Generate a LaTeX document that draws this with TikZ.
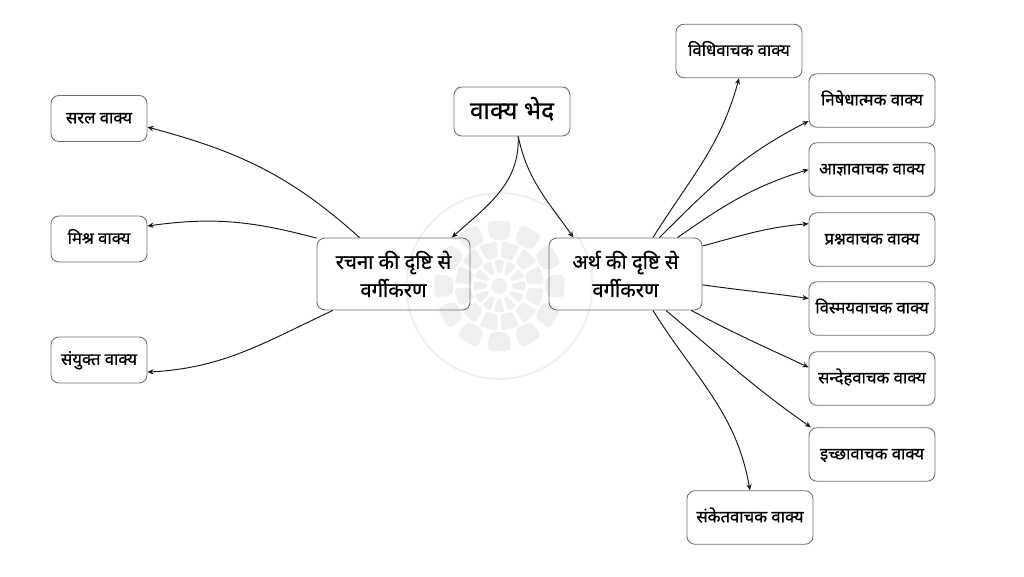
\documentclass[tikz,border=0pt]{standalone}
\usepackage{fontspec}
\setmainfont[Script=Devanagari,FakeBold=0.7]{Noto Sans}
\usetikzlibrary{arrows.meta}
\definecolor{boxline}{HTML}{6E6E6E}
\definecolor{lotus}{HTML}{EFEFEF}
\tikzset{
  card/.style={draw=boxline,line width=0.5pt,rounded corners=4.5pt,inner sep=0pt,align=center},
  leaf/.style={card,text height=8pt,text depth=2.4pt,font=\fontsize{9.5}{11}\selectfont},
  branch/.style={card,minimum width=153*0.2mm,minimum height=72*0.2mm,font=\fontsize{11.5}{16}\selectfont},
  link/.style={draw=black!90,line width=0.55pt,-{Stealth[length=3.5pt,width=3pt]}},
}
\begin{document}
\begin{tikzpicture}[x=0.2mm,y=-0.2mm]
    \useasboundingbox (0,0) rectangle (1024,576);
    % watermark
    \draw[lotus,line width=1.1pt] (499.3,286) circle (93);
    \fill[lotus] (499.3,286) circle (8);
    \foreach \a in {0,30,...,330}{
      \fill[lotus,rotate around={\a:(499.3,286)},rounded corners=1pt] (498,274) -- (501,274) -- (504.5,260) -- (494,260) -- cycle;
      \fill[lotus,rotate around={\a+15:(499.3,286)},rounded corners=1.5pt] (494,258) -- (505,258) -- (508.5,242) -- (490,242) -- cycle;
      \fill[lotus,rotate around={\a:(499.3,286)},rounded corners=3pt] (490,240) -- (509,240) -- (511.5,221) -- (487,221) -- cycle;
    }
    % boxes
    \node[leaf,text height=11pt,text depth=2.5pt,font=\fontsize{14}{16}\selectfont,minimum width=116*0.2mm,minimum height=49*0.2mm] (vakya) at (512,111.5) {वाक्य भेद};
    \node[branch] (rachna) at (393.5,274) {रचना की दृष्टि से\\वर्गीकरण};
    \node[branch] (arth) at (625.5,274) {अर्थ की दृष्टि से\\वर्गीकरण};
    \foreach \nm/\y/\txt in {sarala/118.5/सरल वाक्य,mishra/239/मिश्र वाक्य,sanyukt/360/संयुक्त वाक्य}
      \node[leaf,minimum width=96*0.2mm,minimum height=46*0.2mm] (\nm) at (99,\y) {\txt};
    \foreach \nm/\x/\y/\txt in {vidhi/739/51/विधिवाचक वाक्य,nishedh/872/100.5/निषेधात्मक वाक्य,agya/872/169.5/आज्ञावाचक वाक्य,prashn/872/239.5/प्रश्नवाचक वाक्य,vismay/872/308.5/विस्मयवाचक वाक्य,sandeh/872/378.5/सन्देहवाचक वाक्य,ichha/872/454.5/इच्छावाचक वाक्य,sanket/750/517.5/संकेतवाचक वाक्य}
      \node[leaf,minimum width=126*0.2mm,minimum height=53.5*0.2mm] (\nm) at (\x,\y) {\txt};
    % arrows
    \draw[link] (vakya.-76) to[out=-88,in=42] (rachna.32);
    \draw[link] (vakya.-76) to[out=-78,in=125] (arth.145);
    \draw[link] (rachna.133) to[out=138,in=-15] (sarala.-10);
    \draw[link] (rachna.155) to[out=165,in=8] (mishra.15);
    \draw[link] (rachna.211) to[out=205,in=3] (sanyukt.-14);
    \draw[link] (arth.53.6) to[out=58,in=-105] (vidhi.south);
    \draw[link] (arth.47) to[out=45,in=207] (nishedh.198);
    \draw[link] (arth.35.5) to[out=35,in=197] (agya.west);
    \draw[link] (arth.20) to[out=15,in=185] (prashn.166);
    \draw[link] (arth.-8) to[out=-8,in=172] (vismay.171);
    \draw[link] (arth.-29.5) to[out=-28,in=155] (sandeh.170);
    \draw[link] (arth.-42) to[out=-40,in=145] (ichha.156.5);
    \draw[link] (arth.-53.6) to[out=-58,in=100] (sanket.north);
\end{tikzpicture}
\end{document}
